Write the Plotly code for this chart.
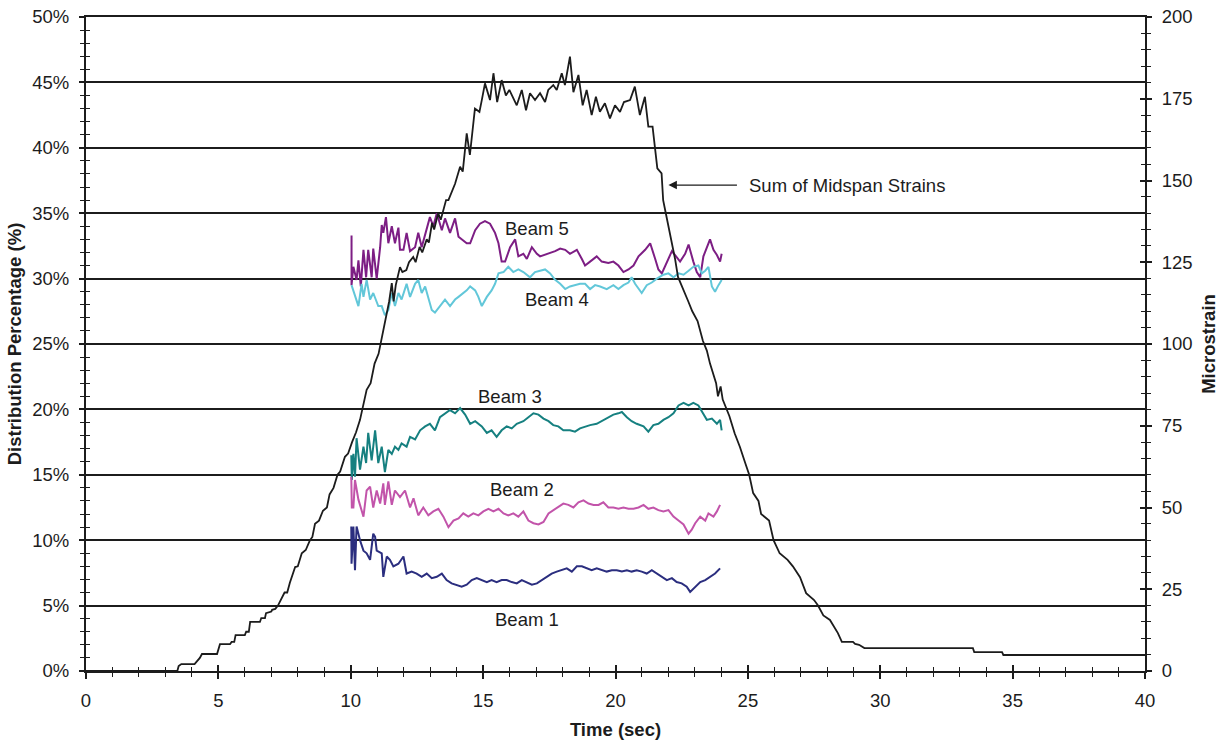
import plotly.graph_objects as go

# ---------------- data ----------------
# Sum of midspan strains (microstrain, right axis)
sum_pts = [
    (0, 0), (3.45, 0), (3.5, 1.5), (3.6, 2.1), (4.1, 2.1), (4.2, 3), (4.3, 4), (4.38, 5.2),
    (4.95, 5.2), (5.06, 8.2), (5.44, 8.2), (5.5, 8.9), (5.6, 8.9), (5.65, 11), (6.0, 11),
    (6.05, 12), (6.15, 12), (6.2, 15), (6.57, 15), (6.62, 16.2), (6.76, 16.2), (6.8, 17.7),
    (7.0, 18.2), (7.03, 18.7), (7.15, 19), (7.25, 20), (7.5, 24), (7.6, 24), (7.7, 27),
    (7.9, 31.8), (8.0, 32), (8.15, 36), (8.3, 37), (8.46, 40), (8.55, 41), (8.65, 45),
    (8.8, 46), (8.95, 49), (9.1, 50), (9.2, 54), (9.35, 56), (9.5, 60), (9.6, 61),
    (9.78, 65.5), (9.9, 66.5), (10.05, 70), (10.2, 73), (10.35, 76.8), (10.5, 82),
    (10.6, 86), (10.75, 88), (10.9, 94), (11.05, 97), (11.2, 103), (11.35, 108),
    (11.45, 113), (11.55, 118.6), (11.62, 113), (11.7, 118), (11.86, 123.5), (11.95, 122),
    (12.1, 122.6), (12.2, 125), (12.36, 126.6), (12.45, 125), (12.6, 129.7), (12.7, 128),
    (12.87, 132), (12.95, 131), (13.07, 137), (13.15, 135), (13.3, 140), (13.4, 138),
    (13.5, 141), (13.6, 144), (13.69, 144), (13.81, 146.6), (13.94, 149), (14.13, 154.2),
    (14.23, 152.7), (14.38, 164.4), (14.5, 157.8), (14.69, 172), (14.86, 171),
    (14.95, 174.6), (15.07, 179.7), (15.26, 174.6), (15.39, 182.8), (15.53, 174),
    (15.7, 180.7), (15.86, 176), (15.99, 177.7), (16.27, 173), (16.46, 177.7),
    (16.62, 171.5), (16.77, 176.7), (16.96, 174.6), (17.15, 176.7), (17.34, 174),
    (17.46, 177.7), (17.65, 179.2), (17.78, 177.7), (17.97, 182.8), (18.09, 179.2),
    (18.28, 187.9), (18.41, 177), (18.6, 182.3), (18.76, 173), (18.91, 177.7), (19.1, 170),
    (19.26, 175.6), (19.41, 171), (19.6, 173.6), (19.79, 169), (19.98, 173), (20.17, 171),
    (20.32, 174), (20.55, 174.6), (20.73, 178.7), (20.92, 170), (21.11, 175.6),
    (21.24, 166.5), (21.4, 166.5), (21.49, 160.3), (21.58, 153.7), (21.74, 152.2),
    (21.8, 144), (21.9, 140), (22.0, 136), (22.15, 131), (22.25, 126), (22.36, 120.5),
    (22.5, 118), (22.6, 116), (22.75, 113), (22.9, 110), (23.1, 107), (23.3, 101),
    (23.45, 98), (23.57, 94), (23.7, 91), (23.8, 88), (23.87, 84), (23.97, 87), (24.05, 83),
    (24.2, 80), (24.3, 78), (24.5, 72.7), (24.7, 68.5), (24.9, 63.6), (25.05, 60),
    (25.2, 54.4), (25.4, 52), (25.5, 48), (25.8, 46), (25.97, 40), (26.2, 36), (26.5, 34),
    (26.7, 32), (26.97, 28.7), (27.2, 23.8), (27.5, 21.7), (27.65, 20), (27.85, 17),
    (28.1, 15.6), (28.4, 11.6), (28.55, 8.9), (28.97, 8.9), (29.05, 8.3), (29.2, 8),
    (29.4, 7), (33.5, 7), (33.55, 5.8), (34.6, 5.8), (34.65, 4.9), (40, 4.9),
]

beam5 = [
    (10.03, 33.3), (10.03, 29.5), (10.10, 30.9), (10.22, 29.9), (10.29, 31.4), (10.38, 29.4),
    (10.48, 32.2), (10.58, 30.1), (10.66, 32.2), (10.79, 30.1), (10.85, 32.3), (10.98, 30.0),
    (11.11, 32.4), (11.17, 34.1), (11.23, 33.5), (11.33, 34.7), (11.42, 32.7), (11.55, 34.0),
    (11.67, 32.7), (11.80, 33.9), (11.86, 32.2), (11.99, 32.2), (12.11, 33.5), (12.24, 32.1),
    (12.43, 32.4), (12.55, 33.5), (12.68, 32.4), (12.87, 33.7), (12.99, 34.7), (13.12, 34.0),
    (13.25, 35.0), (13.44, 33.7), (13.56, 34.6), (13.75, 33.5), (13.94, 34.6), (14.07, 33.2),
    (14.19, 33.0), (14.38, 32.7), (14.51, 32.7), (14.70, 33.7), (14.88, 34.2), (15.07, 34.4),
    (15.26, 34.2), (15.45, 33.5), (15.58, 32.7), (15.70, 31.3), (15.83, 31.3), (16.02, 32.4),
    (16.21, 33.0), (16.33, 31.7), (16.52, 31.9), (16.65, 31.5), (16.84, 32.4), (17.03, 31.9),
    (17.15, 31.7), (17.28, 31.8), (17.47, 31.9), (17.72, 32.1), (17.91, 32.3), (18.10, 32.2),
    (18.28, 31.9), (18.54, 32.2), (18.73, 31.5), (18.85, 31.0), (19.04, 31.3), (19.29, 31.7),
    (19.48, 31.3), (19.73, 31.2), (19.92, 31.3), (20.11, 31.0), (20.30, 30.5), (20.49, 30.7),
    (20.68, 31.0), (20.87, 31.7), (21.12, 32.2), (21.31, 32.7), (21.50, 31.5), (21.62, 30.7),
    (21.75, 30.4), (21.94, 31.3), (22.13, 32.1), (22.25, 31.8), (22.44, 31.3), (22.63, 31.9),
    (22.76, 32.6), (22.94, 31.3), (23.07, 30.5), (23.20, 30.1), (23.32, 31.7), (23.57, 33.0),
    (23.70, 32.2), (23.83, 31.8), (23.95, 31.3), (24.01, 31.9),
]

beam4 = [
    (10.03, 29.5), (10.10, 29.1), (10.29, 27.9), (10.41, 29.6), (10.48, 28.6), (10.60, 29.9),
    (10.73, 28.4), (10.85, 28.9), (11.04, 27.9), (11.17, 27.9), (11.29, 27.2), (11.42, 27.6),
    (11.55, 28.9), (11.67, 27.9), (11.80, 28.9), (11.92, 28.4), (12.11, 29.6), (12.24, 28.6),
    (12.43, 29.6), (12.55, 29.9), (12.68, 28.9), (12.81, 29.4), (12.93, 28.6), (13.06, 27.6),
    (13.18, 27.4), (13.37, 27.9), (13.56, 28.4), (13.75, 27.9), (13.94, 28.4), (14.07, 28.6),
    (14.19, 28.8), (14.38, 29.1), (14.51, 29.4), (14.70, 29.1), (14.82, 28.6), (14.95, 27.9),
    (15.14, 28.6), (15.32, 29.1), (15.45, 29.6), (15.58, 30.4), (15.77, 30.5), (15.95, 30.9),
    (16.14, 30.5), (16.33, 30.7), (16.52, 30.5), (16.77, 30.1), (16.96, 30.5), (17.15, 30.6),
    (17.34, 30.7), (17.53, 30.4), (17.72, 29.9), (17.91, 29.6), (18.10, 29.2), (18.28, 29.4),
    (18.47, 29.5), (18.66, 29.6), (18.85, 29.6), (19.04, 29.2), (19.23, 29.5), (19.42, 29.4),
    (19.67, 29.2), (19.92, 29.5), (20.11, 29.2), (20.30, 29.5), (20.49, 29.7), (20.61, 30.1),
    (20.74, 29.6), (20.87, 29.2), (20.99, 28.9), (21.18, 29.5), (21.37, 29.7), (21.56, 30.0),
    (21.81, 30.3), (22.00, 30.4), (22.19, 30.1), (22.38, 30.4), (22.57, 30.3), (22.76, 30.6),
    (22.94, 30.9), (23.13, 31.0), (23.26, 30.4), (23.39, 30.6), (23.51, 30.9), (23.64, 29.4),
    (23.76, 29.0), (23.89, 29.5), (24.01, 29.9),
]

beam3 = [
    (10.02, 16.5), (10.04, 14.6), (10.10, 16.6), (10.16, 14.85), (10.22, 17.8), (10.35, 15.4),
    (10.48, 17.15), (10.58, 15.9), (10.66, 18.2), (10.79, 16.1), (10.92, 18.4), (11.04, 15.9),
    (11.17, 17.15), (11.29, 15.2), (11.42, 16.9), (11.55, 16.6), (11.67, 17.15), (11.80, 16.9),
    (11.92, 17.4), (12.11, 17.15), (12.24, 17.9), (12.43, 17.7), (12.62, 18.4), (12.81, 18.7),
    (12.99, 18.9), (13.18, 18.4), (13.37, 19.4), (13.56, 19.7), (13.75, 19.95), (13.94, 19.7),
    (14.13, 20.1), (14.32, 19.6), (14.51, 18.9), (14.70, 19.1), (14.95, 18.7), (15.14, 18.2),
    (15.32, 18.4), (15.51, 17.9), (15.70, 18.4), (15.89, 18.7), (16.08, 18.55), (16.27, 18.9),
    (16.52, 19.1), (16.71, 19.4), (16.90, 19.7), (17.09, 19.6), (17.28, 19.3), (17.47, 19.1),
    (17.65, 18.8), (17.84, 18.7), (18.03, 18.4), (18.28, 18.4), (18.47, 18.3), (18.66, 18.55),
    (18.85, 18.7), (19.04, 18.8), (19.29, 18.9), (19.54, 19.2), (19.73, 19.4), (19.92, 19.6),
    (20.11, 19.7), (20.24, 19.8), (20.43, 19.4), (20.61, 19.1), (20.80, 18.9), (21.06, 18.7),
    (21.24, 18.3), (21.43, 18.8), (21.62, 18.9), (21.81, 19.2), (22.00, 19.4), (22.19, 19.7),
    (22.38, 20.3), (22.57, 20.5), (22.76, 20.3), (22.94, 20.5), (23.13, 20.3), (23.32, 19.7),
    (23.45, 19.2), (23.64, 19.3), (23.83, 18.9), (23.95, 19.2), (24.01, 18.4),
]

beam2 = [
    (10.02, 14.85), (10.04, 12.5), (10.10, 12.5), (10.16, 14.6), (10.29, 13.1), (10.48, 11.8),
    (10.60, 13.8), (10.73, 14.1), (10.85, 12.5), (10.98, 13.8), (11.11, 12.8), (11.23, 14.35),
    (11.29, 12.7), (11.42, 14.5), (11.55, 12.7), (11.67, 13.8), (11.86, 13.3), (12.05, 13.8),
    (12.24, 12.5), (12.37, 13.2), (12.55, 11.9), (12.74, 12.5), (12.93, 11.9), (13.12, 12.2),
    (13.31, 12.4), (13.50, 11.8), (13.69, 11.0), (13.88, 11.5), (14.07, 11.67), (14.25, 12.05),
    (14.44, 11.8), (14.63, 12.05), (14.82, 11.9), (15.01, 12.2), (15.20, 12.4), (15.39, 12.2),
    (15.58, 12.4), (15.77, 12.05), (15.95, 11.9), (16.14, 12.05), (16.33, 11.8), (16.52, 12.2),
    (16.71, 11.5), (16.90, 11.3), (17.09, 11.2), (17.28, 11.4), (17.47, 12.05), (17.65, 12.3),
    (17.84, 12.5), (18.03, 12.8), (18.22, 12.7), (18.41, 12.5), (18.60, 12.9), (18.79, 13.05),
    (18.98, 12.8), (19.17, 12.7), (19.36, 12.7), (19.54, 12.9), (19.73, 12.5), (19.92, 12.5),
    (20.11, 12.4), (20.30, 12.5), (20.49, 12.4), (20.68, 12.4), (20.87, 12.5), (21.06, 12.7),
    (21.24, 12.4), (21.43, 12.5), (21.62, 12.3), (21.81, 12.2), (22.00, 12.3), (22.19, 11.8),
    (22.38, 11.5), (22.57, 11.2), (22.76, 10.5), (22.88, 10.8), (23.01, 11.3), (23.20, 11.8),
    (23.39, 11.5), (23.51, 12.05), (23.70, 11.8), (23.83, 12.2), (23.95, 12.7),
]

beam1 = [
    (10.02, 11.05), (10.03, 8.2), (10.10, 11.05), (10.16, 7.7), (10.22, 11.05), (10.35, 10.0),
    (10.48, 9.2), (10.60, 9.0), (10.73, 8.5), (10.85, 10.5), (10.92, 10.25), (10.98, 9.2),
    (11.17, 9.0), (11.23, 7.2), (11.36, 8.75), (11.48, 8.5), (11.61, 8.0), (11.80, 8.2),
    (11.99, 8.75), (12.11, 7.45), (12.30, 7.6), (12.49, 7.45), (12.68, 7.2), (12.87, 7.45),
    (13.06, 7.1), (13.25, 7.2), (13.44, 7.45), (13.62, 6.95), (13.81, 6.7), (14.00, 6.6),
    (14.19, 6.45), (14.38, 6.6), (14.57, 6.95), (14.76, 7.1), (14.95, 6.95), (15.14, 6.8),
    (15.32, 6.95), (15.51, 6.8), (15.70, 6.95), (15.89, 6.95), (16.08, 6.8), (16.27, 6.7),
    (16.46, 6.95), (16.65, 6.8), (16.84, 6.6), (17.03, 6.7), (17.21, 6.95), (17.40, 7.2),
    (17.59, 7.45), (17.78, 7.6), (17.97, 7.7), (18.16, 7.85), (18.35, 7.6), (18.54, 8.0),
    (18.73, 8.0), (18.91, 7.85), (19.10, 7.7), (19.29, 7.85), (19.48, 7.7), (19.67, 7.6),
    (19.86, 7.7), (20.05, 7.7), (20.24, 7.6), (20.43, 7.7), (20.61, 7.6), (20.80, 7.7),
    (20.99, 7.6), (21.18, 7.45), (21.37, 7.7), (21.56, 7.45), (21.75, 7.2), (21.94, 6.95),
    (22.13, 7.1), (22.31, 6.8), (22.50, 6.7), (22.69, 6.45), (22.82, 6.05), (23.01, 6.45),
    (23.20, 6.8), (23.39, 6.95), (23.57, 7.2), (23.76, 7.45), (23.95, 7.85),
]

x_ticks = [0, 5, 10, 15, 20, 25, 30, 35, 40]
pct_ticks = [0, 5, 10, 15, 20, 25, 30, 35, 40, 45, 50]
pct_labels = [f"{v}%" for v in pct_ticks]
strain_ticks = [0, 25, 50, 75, 100, 125, 150, 175, 200]

beam_series = [
    ("Beam 5", beam5, "#7D1E84"),
    ("Beam 4", beam4, "#62C7D9"),
    ("Beam 3", beam3, "#168080"),
    ("Beam 2", beam2, "#C254AA"),
    ("Beam 1", beam1, "#2B2E7F"),
]
beam_labels = [("Beam 5", 17.03, 33.8), ("Beam 4", 17.79, 28.4), ("Beam 3", 16.0, 21.0),
               ("Beam 2", 16.47, 13.85), ("Beam 1", 16.66, 3.9)]

FONT = "Liberation Sans, Arial, Helvetica, sans-serif"
INK = "#1c1c1c"
FS = 18.5

fig = go.Figure()
for name, pts, col in beam_series:
    xs, ys = zip(*pts)
    fig.add_trace(go.Scatter(x=list(xs), y=list(ys), mode="lines", name=name,
                             line=dict(color=col, width=2.0), xaxis="x", yaxis="y"))

sx, sy = zip(*sum_pts)
fig.add_trace(go.Scatter(x=list(sx), y=list(sy), mode="lines", name="Sum of Midspan Strains",
                         line=dict(color=INK, width=1.8), xaxis="x", yaxis="y2"))

# empty traces so that the inside-tick overlay axes get drawn
fig.add_trace(go.Scatter(x=[None], y=[None], xaxis="x2", yaxis="y3", showlegend=False,
                         hoverinfo="skip"))
fig.add_trace(go.Scatter(x=[None], y=[None], xaxis="x2", yaxis="y4", showlegend=False,
                         hoverinfo="skip"))

tickfont = dict(family=FONT, size=FS, color=INK)
titlefont = dict(family=FONT, size=FS, color=INK)

fig.update_layout(
    width=1225, height=742,
    margin=dict(l=86, r=80, t=17, b=71, autoexpand=False),
    paper_bgcolor="white", plot_bgcolor="white",
    showlegend=False,
    xaxis=dict(range=[0, 40], tickvals=x_ticks, ticks="outside", ticklen=6, tickwidth=1.5,
               tickcolor=INK, showline=True, linecolor=INK, linewidth=2, mirror=True,
               showgrid=False, zeroline=False, tickfont=tickfont, ticklabelstandoff=6,
               automargin=False,
               minor=dict(dtick=1, ticks="outside", ticklen=4, tickwidth=1.3, tickcolor=INK),
               title=dict(text="<b>Time (sec)</b>", font=titlefont, standoff=13)),
    xaxis2=dict(range=[0, 40], overlaying="x", anchor="y", side="bottom", tickvals=x_ticks,
                ticks="inside", ticklen=6, tickwidth=1.5, tickcolor=INK, showticklabels=False,
                showline=False, showgrid=False, zeroline=False, automargin=False,
                minor=dict(dtick=1, ticks="inside", ticklen=4, tickwidth=1.3, tickcolor=INK)),
    yaxis=dict(range=[0, 50], tickvals=pct_ticks, ticktext=pct_labels, ticks="outside",
               ticklen=5, tickwidth=1.5, tickcolor=INK, showline=True, linecolor=INK,
               linewidth=2, showgrid=True, gridcolor=INK, gridwidth=1.6, zeroline=False,
               tickfont=tickfont, ticklabelstandoff=6, automargin=False,
               minor=dict(dtick=1, ticks="outside", ticklen=4, tickwidth=1.3, tickcolor=INK,
                          showgrid=False),
               title=dict(text="<b>Distribution Percentage (%)</b>", font=titlefont,
                          standoff=6)),
    yaxis2=dict(range=[0, 200], tickvals=strain_ticks, overlaying="y", side="right", anchor="x",
                ticks="outside", ticklen=5, tickwidth=1.5, tickcolor=INK, showline=True,
                linecolor=INK, linewidth=2, showgrid=False, zeroline=False, tickfont=tickfont,
                ticklabelstandoff=6, automargin=False,
                minor=dict(dtick=5, ticks="outside", ticklen=4, tickwidth=1.3, tickcolor=INK),
                title=dict(text="<b>Microstrain</b>", font=titlefont, standoff=10)),
    yaxis3=dict(range=[0, 50], overlaying="y", side="left", anchor="x2", tickvals=pct_ticks,
                ticks="inside", ticklen=5, tickwidth=1.5, tickcolor=INK, showticklabels=False,
                showline=False, showgrid=False, zeroline=False, automargin=False,
                minor=dict(dtick=1, ticks="inside", ticklen=4, tickwidth=1.3, tickcolor=INK)),
    yaxis4=dict(range=[0, 200], overlaying="y", side="right", anchor="x2",
                tickvals=strain_ticks, ticks="inside", ticklen=5, tickwidth=1.5, tickcolor=INK,
                showticklabels=False, showline=False, showgrid=False, zeroline=False,
                automargin=False,
                minor=dict(dtick=5, ticks="inside", ticklen=4, tickwidth=1.3, tickcolor=INK)),
)

for text, tx, ty in beam_labels:
    fig.add_annotation(x=tx, y=ty, xref="x", yref="y", text=text, showarrow=False,
                       font=dict(family=FONT, size=FS, color=INK))

# arrow pointing at the sum curve
fig.add_annotation(x=22.0, y=148.6, xref="x", yref="y2", text="", showarrow=True,
                   ax=70, ay=0, arrowhead=2, arrowsize=1.3, arrowwidth=1.3, arrowcolor=INK)
fig.add_annotation(x=24.97, y=148.6, xref="x", yref="y2", text="Sum of Midspan Strains",
                   showarrow=False, xanchor="left", font=dict(family=FONT, size=FS, color=INK))

fig.write_html("out.html")
